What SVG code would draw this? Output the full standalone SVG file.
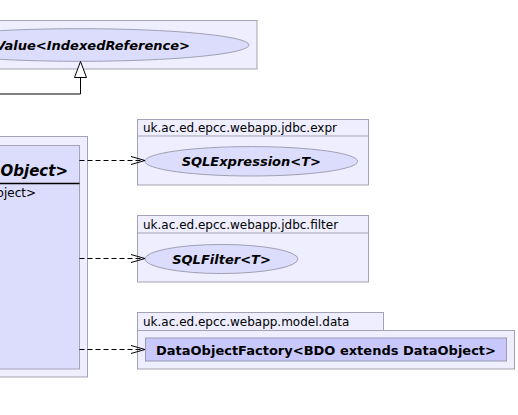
<svg xmlns="http://www.w3.org/2000/svg" width="518" height="415" viewBox="0 0 518 415">
<defs>
<style>
.pkg{fill:#eeeeff;stroke:#a3a3b5;stroke-width:1}
.cls{fill:#dcdcfc;stroke:#a3a3b5;stroke-width:1}
.cls2{fill:#c8c8fc;stroke:#9a9ab0;stroke-width:1}
.ell{fill:#dcdcfc;stroke:#a0a0b4;stroke-width:1}
.plabel{font-family:"DejaVu Sans",sans-serif;font-size:12px;fill:#000}
.ename{font-family:"DejaVu Sans",sans-serif;font-size:13px;font-weight:bold;font-style:italic;fill:#000}
.dep{fill:none;stroke:#000;stroke-width:1;stroke-dasharray:5,3}
.head{fill:none;stroke:#000;stroke-width:1}
</style>
</defs>
<rect width="518" height="415" fill="#ffffff"/>

<g id="indexedvalue-pkg">
<rect class="pkg" x="-20" y="20.5" width="277" height="48.5"/>
<ellipse class="ell" cx="80" cy="45" rx="169" ry="16.3"/>
<text class="ename" x="190" y="50" text-anchor="end">Value&lt;IndexedReference&gt;</text>
</g>

<g id="dataobject-class">
<rect class="pkg" x="-20" y="136.5" width="107.5" height="240.5"/>
<rect class="cls" x="-20" y="145.5" width="99.5" height="223.5"/>
<text x="68" y="176" text-anchor="end" font-family="DejaVu Sans, sans-serif" font-size="15" font-weight="bold" font-style="italic">Object&gt;</text>
<line x1="-20" y1="183.5" x2="79.5" y2="183.5" stroke="#000" stroke-width="1.6"/>
<text x="36" y="197" text-anchor="end" font-family="DejaVu Sans, sans-serif" font-size="12">oject&gt;</text>
</g>

<g id="expr-pkg">
<rect class="pkg" x="137.5" y="119.5" width="231" height="65.5"/>
<line x1="137.5" y1="136" x2="368.5" y2="136" stroke="#a3a3b5"/>
<text class="plabel" x="143" y="131.5">uk.ac.ed.epcc.webapp.jdbc.expr</text>
<ellipse class="ell" cx="251.3" cy="161.3" rx="106.3" ry="14.7"/>
<text class="ename" x="251.3" y="166" text-anchor="middle">SQLExpression&lt;T&gt;</text>
</g>

<g id="filter-pkg">
<rect class="pkg" x="137.5" y="215.5" width="231" height="66.5"/>
<line x1="137.5" y1="233" x2="368.5" y2="233" stroke="#a3a3b5"/>
<text class="plabel" x="143" y="228.5">uk.ac.ed.epcc.webapp.jdbc.filter</text>
<ellipse class="ell" cx="221.5" cy="259" rx="76.5" ry="14.5"/>
<text class="ename" x="221.5" y="263.7" text-anchor="middle">SQLFilter&lt;T&gt;</text>
</g>

<g id="data-pkg">
<rect class="pkg" x="137.5" y="312.5" width="246" height="18"/>
<rect class="pkg" x="137.5" y="330.5" width="377" height="38.5"/>
<text class="plabel" x="143" y="325.7">uk.ac.ed.epcc.webapp.model.data</text>
<rect class="cls2" x="145.5" y="338" width="361" height="23"/>
<text x="326" y="354.5" text-anchor="middle" font-family="DejaVu Sans, sans-serif" font-size="13" font-weight="bold">DataObjectFactory&lt;BDO extends DataObject&gt;</text>
</g>

<g id="connectors">
<polyline points="0,94 80.5,94 80.5,77.5" fill="none" stroke="#000" stroke-width="1"/>
<polygon points="80.5,61.5 74.5,77.5 86.5,77.5" fill="#fff" stroke="#000" stroke-width="1"/>
<line class="dep" x1="79.5" y1="160.5" x2="144" y2="160.5"/>
<polyline class="head" points="131,156.5 145,160.5 131,164.5"/>
<line class="dep" x1="79.5" y1="258.5" x2="144" y2="258.5"/>
<polyline class="head" points="131,254.5 145,258.5 131,262.5"/>
<line class="dep" x1="79.5" y1="349.5" x2="144" y2="349.5"/>
<polyline class="head" points="131,345.5 145,349.5 131,353.5"/>
</g>
</svg>
